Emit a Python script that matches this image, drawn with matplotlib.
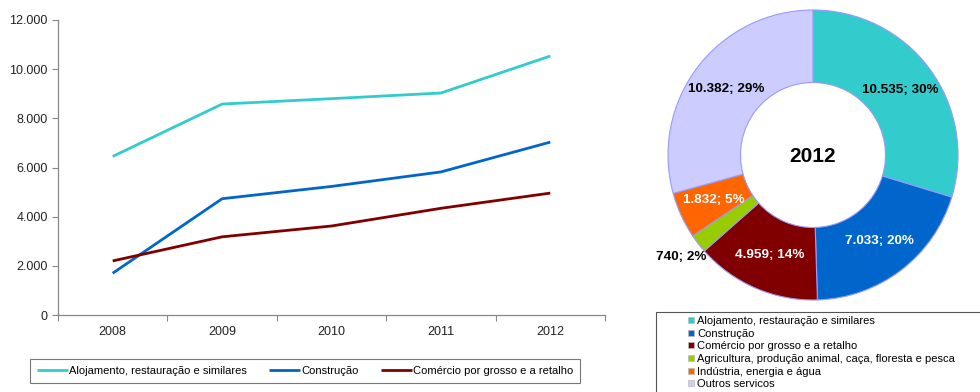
import numpy as np
import matplotlib
matplotlib.use("Agg")
import matplotlib.pyplot as plt
import matplotlib.ticker as mtick
from matplotlib.lines import Line2D
from matplotlib.patches import Rectangle

plt.rcParams['font.family'] = ['Liberation Sans', 'DejaVu Sans']

# yearly series (line chart)
years = ['2008', '2009', '2010', '2011', '2012']
alojamento = [6450, 8580, 8800, 9030, 10535]
construcao = [1700, 4730, 5230, 5820, 7033]
comercio = [2200, 3180, 3620, 4340, 4959]
line_labels = ['Alojamento, restauração e similares', 'Construção',
               'Comércio por grosso e a retalho']
line_colors = ['#33CCCC', '#0066CC', '#800000']

# 2012 breakdown (donut)
sectors = ['Alojamento, restauração e similares', 'Construção',
           'Comércio por grosso e a retalho',
           'Agricultura, produção animal, caça, floresta e pesca',
           'Indústria, energia e água', 'Outros servicos']
values_2012 = [10535, 7033, 4959, 740, 1832, 10382]
sector_colors = ['#33CCCC', '#0066CC', '#800000', '#99CC00', '#FF6600', '#CCCCFF']
label_colors = ['black', 'white', 'white', 'black', 'white', 'black']


def pt_thousands(v, pos=None):
    return f"{int(round(v)):,}".replace(",", ".")


fig = plt.figure(figsize=(9.8, 3.92), dpi=100)

# ---- line chart ----
ax = fig.add_axes([58 / 980, 1 - 315 / 392, (605 - 58) / 980, 295 / 392])
x = np.arange(len(years))
for series, lab, col in zip([alojamento, construcao, comercio], line_labels, line_colors):
    ax.plot(x, series, color=col, lw=2.0, label=lab, solid_capstyle='butt')

ax.set_xlim(-0.5, len(years) - 0.5)
ax.set_ylim(0, 12000)
ax.set_yticks(np.arange(0, 12001, 2000))
ax.yaxis.set_major_formatter(mtick.FuncFormatter(pt_thousands))
ax.set_xticks(np.arange(-0.5, len(years), 1.0))
ax.set_xticklabels([])
ax.set_xticks(x, minor=True)
ax.set_xticklabels(years, minor=True)
ax.tick_params(axis='x', which='minor', length=0, pad=8)
ax.tick_params(axis='both', which='major', length=4, color='#888888',
               labelsize=9, labelcolor='#222222')
ax.tick_params(axis='x', which='minor', labelsize=9, labelcolor='#222222')
for side in ['top', 'right']:
    ax.spines[side].set_visible(False)
for side in ['left', 'bottom']:
    ax.spines[side].set_color('#888888')
    ax.spines[side].set_linewidth(0.9)

leg = fig.legend(loc='center', bbox_to_anchor=(305 / 980, 1 - 371 / 392), ncol=3,
                 fontsize=8, handlelength=2.8, handletextpad=0.1,
                 columnspacing=2.0, frameon=True, fancybox=False,
                 borderpad=0.6)
leg.get_frame().set_edgecolor('#555555')
leg.get_frame().set_linewidth(0.8)

# ---- donut chart ----
r_px = 145
cx, cy = 813, 155
half = 150
dax = fig.add_axes([(cx - half) / 980, 1 - (cy + half) / 392, 2 * half / 980, 2 * half / 392])
wedges, _ = dax.pie(values_2012, colors=sector_colors, startangle=90, counterclock=False,
                    radius=1.0, wedgeprops=dict(width=0.5, edgecolor='#9999FF', linewidth=0.8))
lim = half / r_px
dax.set_xlim(-lim, lim)
dax.set_ylim(-lim, lim)
dax.set_aspect('equal')
dax.axis('off')

total = sum(values_2012)
start = 90.0
for v, w, tc in zip(values_2012, wedges, label_colors):
    span = v / total * 360
    mid = np.deg2rad(start - span / 2)
    start -= span
    pct = v / total * 100
    r = 0.75 if pct > 3 else 1.15
    dax.text(r * np.cos(mid), r * np.sin(mid), f"{pt_thousands(v)}; {pct:.0f}%",
             ha='center', va='center', fontsize=9.7, fontweight='bold', color=tc)

dax.text(0, -0.01, '2012', ha='center', va='center', fontsize=15, fontweight='bold', color='black')

# legend for sectors
fig.patches.append(Rectangle((656 / 980, -0.05), 0.4, (1 - 312 / 392) + 0.05,
                             transform=fig.transFigure, fill=False,
                             edgecolor='#555555', linewidth=0.8))
handles = [Line2D([], [], marker='s', linestyle='none', markersize=4.5,
                  markerfacecolor=c, markeredgecolor='#BBBBBB', markeredgewidth=0.5)
           for c in sector_colors]
leg2 = fig.legend(handles, sectors, loc='upper left', bbox_to_anchor=(688 / 980, 1 - 316 / 392),
                  fontsize=8, frameon=False, handlelength=0.6, handletextpad=0.2,
                  labelspacing=0.24, borderpad=0, borderaxespad=0)

fig.savefig('out.png', dpi=100)
